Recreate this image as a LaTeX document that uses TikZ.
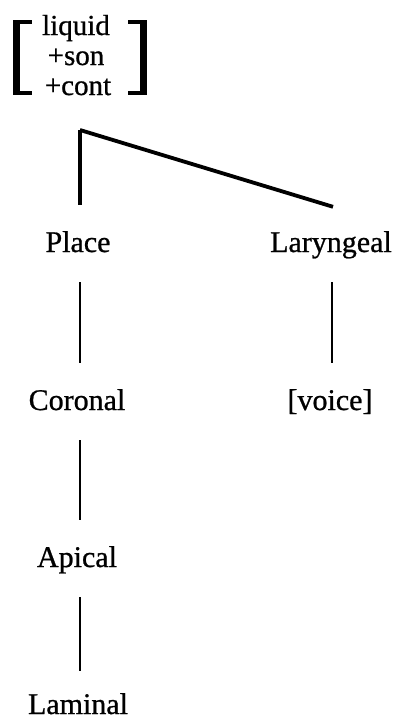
\documentclass[tikz,border=0pt]{standalone}
\usepackage{fontspec}
\setmainfont[FakeBold=0.8]{Liberation Serif}
\usetikzlibrary{calc}
\begin{document}
\begin{tikzpicture}[x=1pt,y=-1pt,
  lab/.style={font=\fontsize{30}{32}\selectfont, inner sep=0pt, anchor=base,
              text height=21pt, text depth=7pt},
  feat/.style={font=\fontsize{29}{30}\selectfont, inner sep=0pt, anchor=base},
  edge/.style={line width=2.7pt, line cap=butt},
  topedge/.style={line width=3.2pt},
  diagedge/.style={line width=3.8pt},
  brk/.style={fill=black}]
  % canvas
  \fill[white] (0,0) rectangle (396,720);
  \useasboundingbox (0,0) rectangle (396,720);

  % feature matrix
  \node[feat] (f1) at (76,35) {liquid};
  \node[feat] (f2) at (76,65) {+son};
  \node[feat] (f3) at (78,95) {+cont};
  % left bracket
  \fill[brk] (13,20) rectangle (20,95);
  \fill[brk] (13,20) rectangle (32,24);
  \fill[brk] (13,91) rectangle (32,95);
  % right bracket
  \fill[brk] (140,20) rectangle (147,95);
  \fill[brk] (128,20) rectangle (147,24);
  \fill[brk] (128,91) rectangle (147,95);

  % tree nodes
  \node[lab] (place) at (78,252) {Place};
  \node[lab] (laryn) at (331,252) {Laryngeal};
  \node[lab] (coron) at (77,410) {Coronal};
  \node[lab] (voice) at (330,410) {[voice]};
  \node[lab] (apic)  at (77,567) {Apical};
  \node[lab, text depth=0pt] (lamin) at (78,714) {Laminal};

  % branching point under the matrix
  \coordinate (root) at (80,130);
  \draw[topedge] (root) -- ($(place.north)+(2,-26)$);
  \draw[diagedge] (root) -- ($(laryn.north)+(2,-24)$);

  % dependencies
  \draw[edge] ($(place.south)+(2,23)$) -- ($(coron.north)+(3,-26)$);
  \draw[edge] ($(laryn.south)+(1,23)$) -- ($(voice.north)+(2,-26)$);
  \draw[edge] ($(coron.south)+(3,23)$) -- ($(apic.north)+(3,-26)$);
  \draw[edge] ($(apic.south)+(3,23)$) -- ($(lamin.north)+(2,-22)$);
\end{tikzpicture}
\end{document}
